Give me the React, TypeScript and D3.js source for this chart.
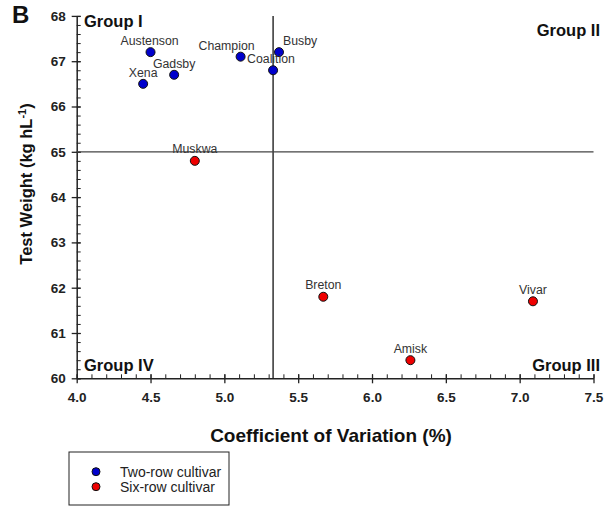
import React, { useRef, useEffect } from 'react';
import * as d3 from 'd3';

// cultivar data
const twoRowNames = ['Austenson', 'Xena', 'Gadsby', 'Champion', 'Busby', 'Coalition'];
const twoRowCV = [4.5, 4.45, 4.66, 5.11, 5.37, 5.33];
const twoRowTW = [67.2, 66.5, 66.7, 67.1, 67.2, 66.8];

const sixRowNames = ['Muskwa', 'Breton', 'Vivar', 'Amisk'];
const sixRowCV = [4.8, 5.67, 7.09, 6.26];
const sixRowTW = [64.8, 61.8, 61.7, 60.4];

const xTicks = [4.0, 4.5, 5.0, 5.5, 6.0, 6.5, 7.0, 7.5];
const yTicks = [60, 61, 62, 63, 64, 65, 66, 67, 68];

// quadrant split (means)
const meanCV = 5.33;
const meanTW = 65.0;

// label placement relative to the point (px)
const labelOffset: Record<string, [number, number, string]> = {
  Austenson: [-1, -7, 'middle'],
  Xena: [0, -7, 'middle'],
  Gadsby: [0, -7, 'middle'],
  Champion: [-14, -7, 'middle'],
  Busby: [4, -7, 'start'],
  Coalition: [-26, -7, 'start'],
  Muskwa: [0, -8, 'middle'],
  Breton: [0, -8, 'middle'],
  Vivar: [0, -7, 'middle'],
  Amisk: [0, -7, 'middle'],
};

const App: React.FC = () => {
  const svgRef = useRef<SVGSVGElement>(null);

  useEffect(() => {
    if (!svgRef.current) return;
    const svg = d3.select(svgRef.current);
    svg.selectAll('*').remove();

    const font = '"Liberation Sans", Arial, sans-serif';
    const x = d3.scaleLinear().domain([4.0, 7.5]).range([76.7, 593.5]);
    const y = d3.scaleLinear().domain([60, 68]).range([378.3, 15.9]);

    // minor ticks (inside)
    const xMinor = d3.range(40, 76).map(d => d / 10);
    const yMinor = d3.range(300, 341).map(d => d / 5);

    svg.append('g')
      .attr('transform', `translate(0,${y(60)})`)
      .call(d3.axisBottom(x).tickValues(xMinor).tickSize(-4).tickFormat(() => ''))
      .call(g => g.select('.domain').remove())
      .selectAll('line').attr('stroke', '#222').attr('stroke-width', 1);

    svg.append('g')
      .attr('transform', `translate(${x(4)},0)`)
      .call(d3.axisLeft(y).tickValues(yMinor).tickSize(-4).tickFormat(() => ''))
      .call(g => g.select('.domain').remove())
      .selectAll('line').attr('stroke', '#222').attr('stroke-width', 1);

    // major axes
    const xAxis = svg.append('g')
      .attr('transform', `translate(0,${y(60)})`)
      .call(d3.axisBottom(x).tickValues(xTicks).tickSizeInner(5).tickSizeOuter(0).tickPadding(9).tickFormat(d3.format('.1f')));
    xAxis.select('.domain').attr('stroke', '#222').attr('stroke-width', 1.5);
    xAxis.selectAll('.tick line').attr('stroke', '#222').attr('stroke-width', 1.3).attr('y1', -4);
    xAxis.selectAll('text').attr('font-family', font).attr('font-size', 13.5).attr('font-weight', 'bold').attr('fill', '#222');

    const yAxis = svg.append('g')
      .attr('transform', `translate(${x(4)},0)`)
      .call(d3.axisLeft(y).tickValues(yTicks).tickSizeInner(5).tickSizeOuter(0).tickPadding(6).tickFormat(d3.format('d')));
    yAxis.select('.domain').attr('stroke', '#222').attr('stroke-width', 1.5);
    yAxis.selectAll('.tick line').attr('stroke', '#222').attr('stroke-width', 1.3).attr('x1', 4);
    yAxis.selectAll('text').attr('font-family', font).attr('font-size', 13.5).attr('font-weight', 'bold').attr('fill', '#222');

    // quadrant lines
    svg.append('line')
      .attr('x1', x(meanCV)).attr('x2', x(meanCV))
      .attr('y1', y(68)).attr('y2', y(60))
      .attr('stroke', '#111').attr('stroke-width', 1.3);
    svg.append('line')
      .attr('x1', x(4)).attr('x2', x(7.5))
      .attr('y1', y(meanTW)).attr('y2', y(meanTW))
      .attr('stroke', '#444').attr('stroke-width', 1.3);

    // points + labels
    const drawSeries = (names: string[], cv: number[], tw: number[], fill: string) => {
      const rows = names.map((n, i) => ({ n, cv: cv[i], tw: tw[i] }));
      const g = svg.append('g');
      g.selectAll('circle').data(rows).enter().append('circle')
        .attr('cx', d => x(d.cv)).attr('cy', d => y(d.tw))
        .attr('r', 4.5)
        .attr('fill', fill).attr('stroke', '#111').attr('stroke-width', 1);
      g.selectAll('text').data(rows).enter().append('text')
        .attr('x', d => x(d.cv) + labelOffset[d.n][0])
        .attr('y', d => y(d.tw) + labelOffset[d.n][1])
        .attr('text-anchor', d => labelOffset[d.n][2])
        .attr('font-family', font).attr('font-size', 12.3).attr('fill', '#333')
        .text(d => d.n);
    };
    drawSeries(twoRowNames, twoRowCV, twoRowTW, '#0000cc');
    drawSeries(sixRowNames, sixRowCV, sixRowTW, '#ee0000');

    // group labels
    const groups: [string, number, number, string][] = [
      ['Group I', 84, 27, 'start'],
      ['Group II', 600, 36, 'end'],
      ['Group IV', 84, 371, 'start'],
      ['Group III', 600, 371, 'end'],
    ];
    svg.append('g').selectAll('text').data(groups).enter().append('text')
      .attr('x', d => d[1]).attr('y', d => d[2])
      .attr('text-anchor', d => d[3])
      .attr('font-family', font).attr('font-size', 16.5).attr('font-weight', 'bold').attr('fill', '#111')
      .text(d => d[0]);

    // panel letter
    svg.append('text').attr('x', 12).attr('y', 23)
      .attr('font-family', font).attr('font-size', 24).attr('font-weight', 'bold').attr('fill', '#111')
      .text('B');

    // axis titles
    svg.append('text').attr('x', 331).attr('y', 442)
      .attr('text-anchor', 'middle')
      .attr('font-family', font).attr('font-size', 19).attr('font-weight', 'bold').attr('fill', '#111')
      .text('Coefficient of Variation (%)');

    const yt = svg.append('text')
      .attr('transform', `translate(32,184) rotate(-90)`)
      .attr('text-anchor', 'middle')
      .attr('font-family', font).attr('font-size', 16.5).attr('font-weight', 'bold').attr('fill', '#111');
    yt.append('tspan').text('Test Weight (kg hL');
    yt.append('tspan').attr('dy', -6).attr('font-size', 11).text('-1');
    yt.append('tspan').attr('dy', 6).text(')');

    // legend
    const lg = svg.append('g');
    lg.append('rect').attr('x', 69).attr('y', 452).attr('width', 160).attr('height', 53)
      .attr('fill', 'white').attr('stroke', '#222').attr('stroke-width', 1);
    const legendItems: [string, string][] = [['Two-row cultivar', '#0000cc'], ['Six-row cultivar', '#ee0000']];
    legendItems.forEach(([label, c], i) => {
      lg.append('circle').attr('cx', 96).attr('cy', 471.7 + i * 15).attr('r', 4)
        .attr('fill', c).attr('stroke', '#111').attr('stroke-width', 1);
      lg.append('text').attr('x', 120).attr('y', 476.5 + i * 15)
        .attr('font-family', font).attr('font-size', 14).attr('fill', '#222')
        .text(label);
    });
  }, []);

  return (
    <svg ref={svgRef} width={614} height={508}
      style={{ position: 'absolute', left: 0, top: 0, background: 'white' }} />
  );
};

export default App;
